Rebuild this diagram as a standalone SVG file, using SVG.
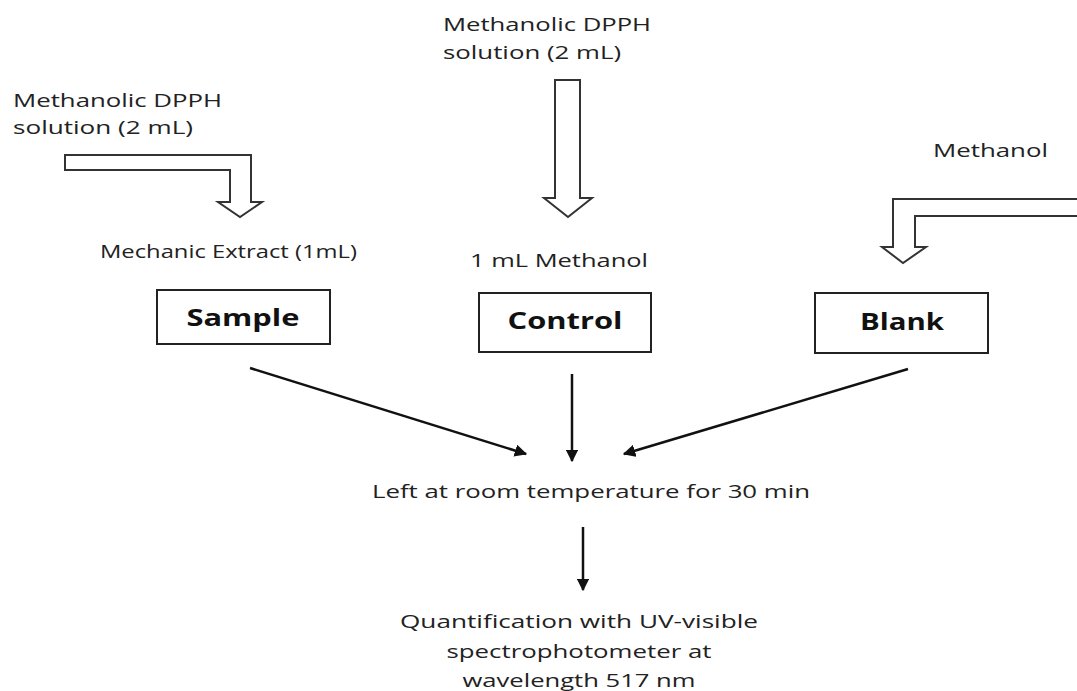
<svg xmlns="http://www.w3.org/2000/svg" width="1077" height="691" viewBox="0 0 1077 691">
<style>
text{font-family:"Open Sans","Liberation Sans",sans-serif;fill:#222;font-size:18px}
.b{font-weight:bold;font-size:23px;fill:#111}
.m{text-anchor:middle}
.box{fill:#fff;stroke:#222;stroke-width:2}
.hol{fill:#fff;stroke:#333;stroke-width:2;stroke-linejoin:miter}
.con{stroke:#111;stroke-width:2.5;fill:none}
</style>
<defs>
<marker id="ah" viewBox="0 0 10 10" refX="9" refY="5" markerWidth="5" markerHeight="5" orient="auto" markerUnits="strokeWidth">
<path d="M0,0 L10,5 L0,10 z" fill="#111"/>
</marker>
</defs>
<rect width="1077" height="691" fill="#fff"/>
<g id="labels">
<text x="13" y="107" textLength="209" lengthAdjust="spacingAndGlyphs">Methanolic DPPH</text>
<text x="13" y="134" textLength="180" lengthAdjust="spacingAndGlyphs">solution (2 mL)</text>
<text x="443" y="31" textLength="208" lengthAdjust="spacingAndGlyphs">Methanolic DPPH</text>
<text x="443" y="59" textLength="178" lengthAdjust="spacingAndGlyphs">solution (2 mL)</text>
<text x="933" y="157" textLength="115" lengthAdjust="spacingAndGlyphs">Methanol</text>
<text x="100" y="258" textLength="257" lengthAdjust="spacingAndGlyphs">Mechanic Extract (1mL)</text>
<text x="470" y="267" textLength="178" lengthAdjust="spacingAndGlyphs">1 mL Methanol</text>
</g>
<g id="inputs">
<path class="hol" d="M65,155 L251,155 L251,202 L262,202 L240,217 L218,202 L230,202 L230,170 L65,170 Z"/>
<path class="hol" d="M555,80 L580,80 L580,198 L592,198 L568,217 L544,198 L555,198 Z"/>
<path class="hol" d="M1080,199 L893,199 L893,247 L882,247 L903,263 L926,247 L915,247 L915,216 L1080,216"/>
</g>
<g id="sample">
<rect class="box" x="157" y="290" width="173" height="54"/>
<text class="b m" x="243" y="326" textLength="113" lengthAdjust="spacingAndGlyphs">Sample</text>
</g>
<g id="control">
<rect class="box" x="479" y="293" width="172" height="59"/>
<text class="b m" x="565" y="329" textLength="115" lengthAdjust="spacingAndGlyphs">Control</text>
</g>
<g id="blank">
<rect class="box" x="815" y="293" width="173" height="60"/>
<text class="b m" x="902" y="330" textLength="84" lengthAdjust="spacingAndGlyphs">Blank</text>
</g>
<g id="incubate">
<text class="m" x="591" y="498" textLength="438" lengthAdjust="spacingAndGlyphs">Left at room temperature for 30 min</text>
</g>
<g id="quantify">
<text class="m" x="579" y="628" textLength="358" lengthAdjust="spacingAndGlyphs">Quantification with UV-visible</text>
<text class="m" x="579" y="658" textLength="265" lengthAdjust="spacingAndGlyphs">spectrophotometer at</text>
<text class="m" x="579" y="687" textLength="233" lengthAdjust="spacingAndGlyphs">wavelength 517 nm</text>
</g>
<g id="connectors">
<line class="con" x1="250" y1="368" x2="526" y2="454" marker-end="url(#ah)"/>
<line class="con" x1="572" y1="374" x2="572" y2="461" marker-end="url(#ah)"/>
<line class="con" x1="908" y1="369" x2="624" y2="454" marker-end="url(#ah)"/>
<line class="con" x1="583" y1="527" x2="583" y2="590" marker-end="url(#ah)"/>
</g>
</svg>
